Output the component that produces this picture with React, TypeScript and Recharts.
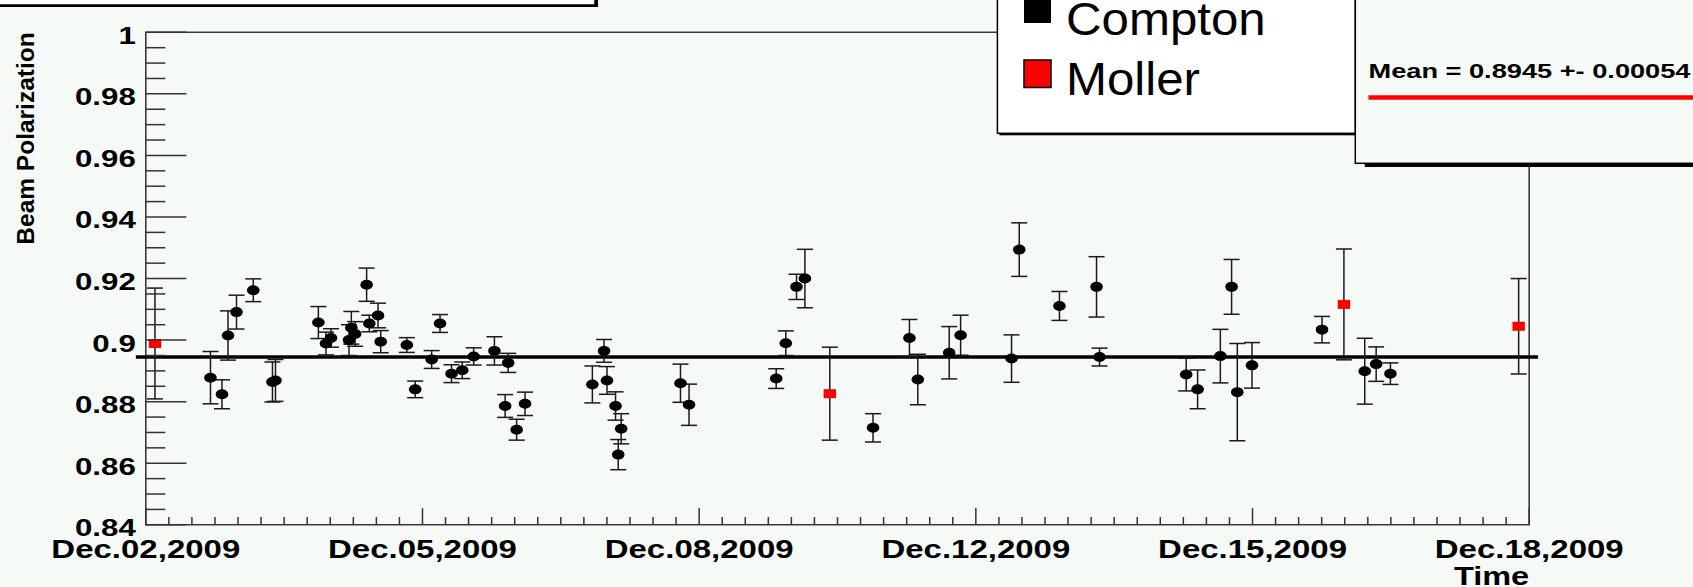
import { ScatterChart, Scatter, XAxis, YAxis, ErrorBar, ReferenceArea, ReferenceLine, Label } from "recharts";

// time in days from the left edge of the axis
const comptonDay = [
  0.748, 0.881, 0.951, 1.049, 1.243, 1.465, 1.5, 1.996, 2.084, 2.142, 2.35, 2.377, 2.421, 2.554, 2.585,
  2.686, 2.717, 3.019, 3.116, 3.306, 3.403, 3.536, 3.66, 3.792, 4.032, 4.156, 4.191, 4.289, 4.386, 5.165,
  5.3, 5.334, 5.433, 5.464, 5.498, 6.184, 6.283, 7.291, 7.402, 7.526, 7.623, 8.411, 8.832, 8.929, 9.292,
  9.424, 10.013, 10.102, 10.567, 10.996, 11.031, 12.033, 12.165, 12.428, 12.558, 12.624, 12.794, 13.604,
  14.098, 14.23, 14.395,
];
const comptonPol = [
  0.8878, 0.8824, 0.9015, 0.9091, 0.9162, 0.8864, 0.8869, 0.9057, 0.8989, 0.9007, 0.9, 0.904, 0.902, 0.918,
  0.9054, 0.908, 0.8995, 0.8984, 0.884, 0.8937, 0.9054, 0.8891, 0.8902, 0.8947, 0.8965, 0.8786, 0.8926,
  0.8709, 0.8793, 0.8856, 0.8965, 0.8869, 0.8786, 0.8628, 0.8712, 0.886, 0.879, 0.8875, 0.899, 0.9173, 0.92,
  0.8715, 0.9007, 0.8872, 0.8959, 0.9016, 0.894, 0.9294, 0.9111, 0.9173, 0.8945, 0.8888, 0.884, 0.8948,
  0.9173, 0.8831, 0.8918, 0.9034, 0.8899, 0.8922, 0.8891,
];
const comptonErr = [
  0.0085, 0.0047, 0.008, 0.0055, 0.0037, 0.0065, 0.0068, 0.0052, 0.0037, 0.003, 0.005, 0.0053, 0.004, 0.0054,
  0.0027, 0.004, 0.0036, 0.0024, 0.0027, 0.0029, 0.0029, 0.0029, 0.0027, 0.0028, 0.0046, 0.0037, 0.0031,
  0.0034, 0.0038, 0.006, 0.0037, 0.0045, 0.0046, 0.0049, 0.0049, 0.0062, 0.0067, 0.0032, 0.004, 0.0041,
  0.0095, 0.0046, 0.006, 0.0082, 0.0085, 0.0065, 0.0077, 0.0087, 0.0047, 0.0098, 0.0029, 0.0053, 0.0063,
  0.0087, 0.0089, 0.0158, 0.0074, 0.0043, 0.0107, 0.0056, 0.0035,
];
const mollerDay = [0.106, 7.911, 13.857, 15.878];
const mollerPol = [0.8989, 0.8826, 0.9116, 0.9045];
const mollerErr = [0.018, 0.0151, 0.018, 0.0155];

const timeLabels = ["Dec.02,2009", "Dec.05,2009", "Dec.08,2009", "Dec.12,2009", "Dec.15,2009", "Dec.18,2009"];
const polLabels = ["0.84", "0.86", "0.88", "0.9", "0.92", "0.94", "0.96", "0.98", "1"];
const seriesNames = ["Compton", "Moller"];
const meanPol = 0.8945;
const meanErr = 0.00054;

const BG = "#f5faf7";
const FONT = "'Liberation Sans', Arial, sans-serif";
const DAY_MAX = 16;
const X_MINOR = 12;
const Y_MIN = 0.84;
const Y_MAX = 1;
const Y_MINOR = 4;

const xCount = (timeLabels.length - 1) * X_MINOR;
const xStep = DAY_MAX / xCount;
const xTicks = Array.from({ length: xCount + 1 }, (_, i) => Math.round(i * xStep * 1e6) / 1e6);
const yCount = (polLabels.length - 1) * Y_MINOR;
const yStep = (Y_MAX - Y_MIN) / yCount;
const yTicks = Array.from({ length: yCount + 1 }, (_, i) => Math.round((Y_MIN + i * yStep) * 1e6) / 1e6);

const compton = comptonDay.map((d, i) => ({ day: d, pol: comptonPol[i], err: comptonErr[i] }));
const moller = mollerDay.map((d, i) => ({ day: d, pol: mollerPol[i], err: mollerErr[i] }));

const XTick = (props: any) => {
  const { x, y, payload } = props;
  const i = Math.round(payload.value / xStep);
  const major = i % X_MINOR === 0;
  return (
    <g>
      <line x1={x} x2={x} y1={y} y2={y - (major ? 16.7 : 7.7)} stroke="#333" strokeWidth={1.5} />
      {major && (
        <text
          transform={`translate(${x},${y + 33.5}) scale(1.32,1)`}
          textAnchor="middle"
          fontFamily={FONT}
          fontWeight={700}
          fontSize={25}
          fill="#000"
        >
          {timeLabels[i / X_MINOR]}
        </text>
      )}
    </g>
  );
};

const YTick = (props: any) => {
  const { x, y, payload } = props;
  const i = Math.round((payload.value - Y_MIN) / yStep);
  const major = i % Y_MINOR === 0;
  return (
    <g>
      <line x1={x} x2={x + (major ? 40.6 : 19.5)} y1={y} y2={y} stroke="#333" strokeWidth={1.5} />
      {major && (
        <text
          transform={`translate(${x - 10},${y + 11.4}) scale(1.33,1)`}
          textAnchor="end"
          fontFamily={FONT}
          fontWeight={700}
          fontSize={23.5}
          fill="#000"
        >
          {polLabels[i / Y_MINOR]}
        </text>
      )}
    </g>
  );
};

const Dot = (props: any) => <ellipse cx={props.cx} cy={props.cy} rx={6.3} ry={5} fill="#000" />;
const Square = (props: any) => <rect x={props.cx - 6.2} y={props.cy - 4.5} width={12.4} height={9} fill="#ff0000" />;

export default function App() {
  return (
    <div style={{ position: "absolute", left: 0, top: 0, width: 1693, height: 587, background: BG }}>
      <ScatterChart width={1693} height={587} margin={{ top: 32.3, right: 163.8, bottom: 0, left: 0 }}>
        <XAxis
          type="number"
          dataKey="day"
          domain={[0, DAY_MAX]}
          allowDataOverflow
          ticks={xTicks}
          interval={0}
          tick={XTick}
          tickLine={false}
          tickSize={0}
          tickMargin={0}
          axisLine={false}
          height={62.2}
        >
          <Label
            content={(p: any) => {
              const vb = p.viewBox || { x: 145.8, y: 524.8, width: 1383.4 };
              return (
                <text
                  transform={`translate(${vb.x + vb.width},${vb.y + 60}) scale(1.3,1)`}
                  textAnchor="end"
                  fontFamily={FONT}
                  fontWeight={700}
                  fontSize={25}
                  fill="#000"
                >
                  Time
                </text>
              );
            }}
          />
        </XAxis>
        <YAxis
          type="number"
          dataKey="pol"
          domain={[Y_MIN, Y_MAX]}
          allowDataOverflow
          ticks={yTicks}
          interval={0}
          tick={YTick}
          tickLine={false}
          tickSize={0}
          tickMargin={0}
          axisLine={false}
          width={145.8}
        >
          <Label
            content={(p: any) => {
              const vb = p.viewBox || { x: 0, y: 32.3 };
              const lx = vb.x + 34;
              return (
                <text
                  x={lx}
                  y={vb.y}
                  transform={`rotate(-90, ${lx}, ${vb.y})`}
                  textAnchor="end"
                  fontFamily={FONT}
                  fontWeight={700}
                  fontSize={24.5}
                  fill="#000"
                >
                  Beam Polarization
                </text>
              );
            }}
          />
        </YAxis>
        <ReferenceArea
          x1={0}
          x2={DAY_MAX}
          y1={Y_MIN}
          y2={Y_MAX}
          fill="none"
          stroke="#3a3a3a"
          strokeWidth={1.6}
          ifOverflow="visible"
        />
        <ReferenceLine
          segment={[
            { x: -0.115, y: meanPol },
            { x: 16.102, y: meanPol },
          ]}
          stroke="#000"
          strokeWidth={3.5}
          ifOverflow="visible"
        />
        <Scatter name={seriesNames[0]} data={compton} shape={Dot} isAnimationActive={false}>
          <ErrorBar dataKey="err" direction="y" width={8} stroke="#1a1a1a" strokeWidth={1.5} isAnimationActive={false} />
        </Scatter>
        <Scatter name={seriesNames[1]} data={moller} shape={Square} isAnimationActive={false}>
          <ErrorBar dataKey="err" direction="y" width={8} stroke="#1a1a1a" strokeWidth={1.5} isAnimationActive={false} />
        </Scatter>
      </ScatterChart>

      <svg width={1693} height={587} style={{ position: "absolute", left: 0, top: 0, pointerEvents: "none" }}>
        {/* title pave, mostly above the picture */}
        <rect x={-7} y={-38} width={605} height={45} fill="#000" />
        <rect x={-10} y={-40} width={605} height={45} fill="#fff" stroke="#000" strokeWidth={1.5} />

        {/* legend */}
        <rect x={999.4} y={-38} width={358} height={173.3} fill="#000" />
        <rect x={997.4} y={-40} width={358} height={173.3} fill="#fff" stroke="#000" strokeWidth={1.5} />
        <rect x={1024} y={-5} width={27} height={28} fill="#000" />
        <rect x={1024} y={60} width={27} height={27.5} fill="#ff0000" stroke="#000" strokeWidth={1.5} />
        <text transform="translate(1066,35) scale(1.07,1)" fontFamily={FONT} fontSize={46} fill="#000">
          {seriesNames[0]}
        </text>
        <text transform="translate(1066,95) scale(1.07,1)" fontFamily={FONT} fontSize={46} fill="#000">
          {seriesNames[1]}
        </text>

        {/* fit stats box */}
        <rect x={1364.7} y={-38} width={400} height={205} fill="#000" />
        <rect x={1355.3} y={-40} width={400} height={203.3} fill={BG} stroke="#000" strokeWidth={1.5} />
        <text
          x={1368.5}
          y={77.5}
          fontFamily={FONT}
          fontWeight={700}
          fontSize={19.5}
          textLength={322}
          lengthAdjust="spacingAndGlyphs"
          fill="#000"
        >
          {`Mean = ${meanPol} +- ${meanErr}`}
        </text>
        <line x1={1368.5} x2={1693} y1={97.5} y2={97.5} stroke="#ff0000" strokeWidth={4.5} />
      </svg>
    </div>
  );
}
